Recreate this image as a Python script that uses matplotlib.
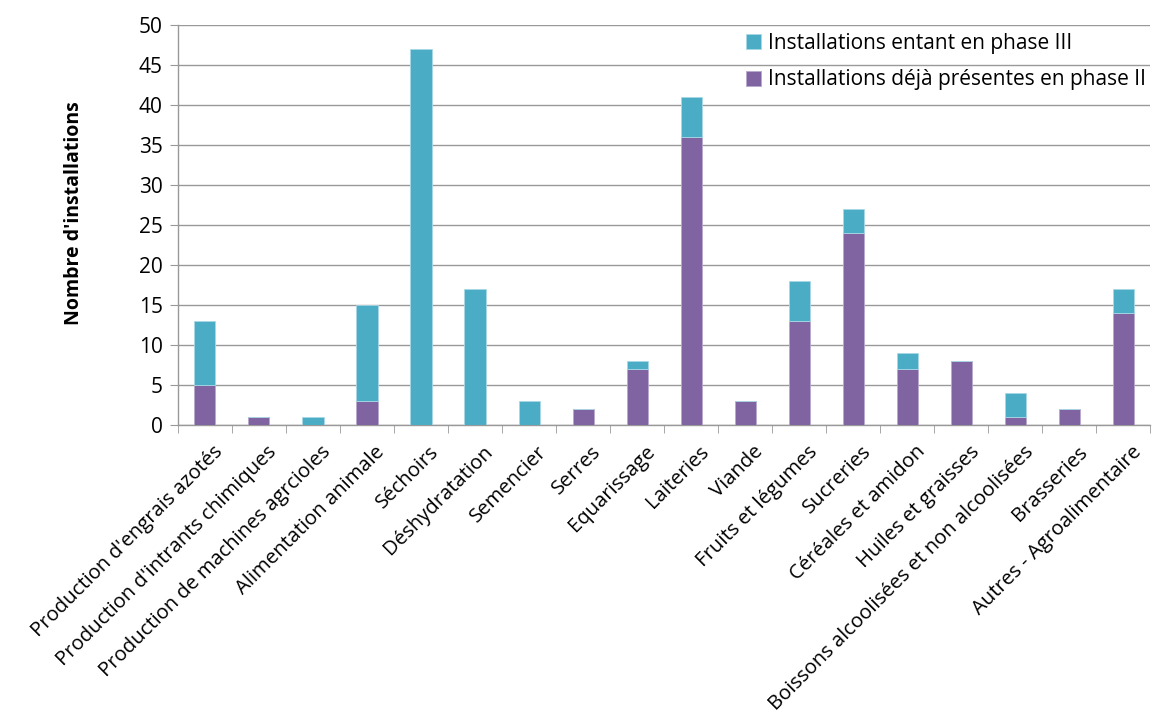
import matplotlib.pyplot as plt
import matplotlib.transforms as mtransforms
import numpy as np

plt.rcParams["font.family"] = ["Open Sans", "DejaVu Sans"]

categories = [
    "Production d'engrais azotés", "Production d'intrants chimiques",
    "Production de machines agrcioles", "Alimentation animale", "Séchoirs",
    "Déshydratation", "Semencier", "Serres", "Equarissage", "Laiteries",
    "Viande", "Fruits et légumes", "Sucreries", "Céréales et amidon",
    "Huiles et graisses", "Boissons alcoolisées et non alcoolisées",
    "Brasseries", "Autres - Agroalimentaire",
]
phase2 = [5, 1, 0, 3, 0, 0, 0, 2, 7, 36, 3, 13, 24, 7, 8, 1, 2, 14]
phase3 = [8, 0, 1, 12, 47, 17, 3, 0, 1, 5, 0, 5, 3, 2, 0, 3, 0, 3]

TEAL = "#4BACC6"
PURPLE = "#8064A2"
GRID = "#999999"

fig = plt.figure(figsize=(11.63, 7.17), dpi=100)
ax = fig.add_axes([0.153, 0.407, 0.836, 0.558])

x = np.arange(len(categories))
w = 0.39
ax.bar(x, phase2, w, color=PURPLE, edgecolor="#b8a8cc", linewidth=0.6,
       label="Installations déjà présentes en phase II", zorder=3)
ax.bar(x, phase3, w, bottom=phase2, color=TEAL, edgecolor="#a8d8e6", linewidth=0.6,
       label="Installations entant en phase III", zorder=3)

ax.set_xlim(-0.5, len(categories) - 0.5)
ax.set_ylim(0, 50)
ax.set_yticks(range(0, 51, 5))
ax.yaxis.grid(True, color=GRID, linewidth=1.0, zorder=0)
ax.tick_params(axis="y", length=6, color=GRID, labelsize=15, pad=5)

ax.set_xticks(x)
ax.set_xticklabels(categories, rotation=45, ha="right", rotation_mode="anchor",
                   fontsize=14.6)
ax.tick_params(axis="x", which="major", length=0, pad=12)
# nudge the rotated labels a little to the right of the tick centre
shift = mtransforms.ScaledTranslation(8 / 100, 0, fig.dpi_scale_trans)
for lbl in ax.get_xticklabels():
    lbl.set_transform(lbl.get_transform() + shift)
ax.set_xticks(np.arange(-0.5, len(categories), 1), minor=True)
ax.tick_params(axis="x", which="minor", length=6, color=GRID)

for s in ["top", "right"]:
    ax.spines[s].set_visible(False)
for s in ["left", "bottom"]:
    ax.spines[s].set_color(GRID)
    ax.spines[s].set_linewidth(1.0)

ax.set_ylabel("Nombre d'installations", fontsize=14, fontweight="bold")
ax.yaxis.set_label_coords(-0.097, 0.53)

handles, labels = ax.get_legend_handles_labels()
leg = ax.legend(handles[::-1], labels[::-1], loc="upper right",
                bbox_to_anchor=(1.009, 1.012), frameon=False, fontsize=15,
                handlelength=0.75, handleheight=0.75, handletextpad=0.35,
                labelspacing=0.75, borderaxespad=0.2)

fig.savefig("out.png", dpi=100, facecolor="white")
